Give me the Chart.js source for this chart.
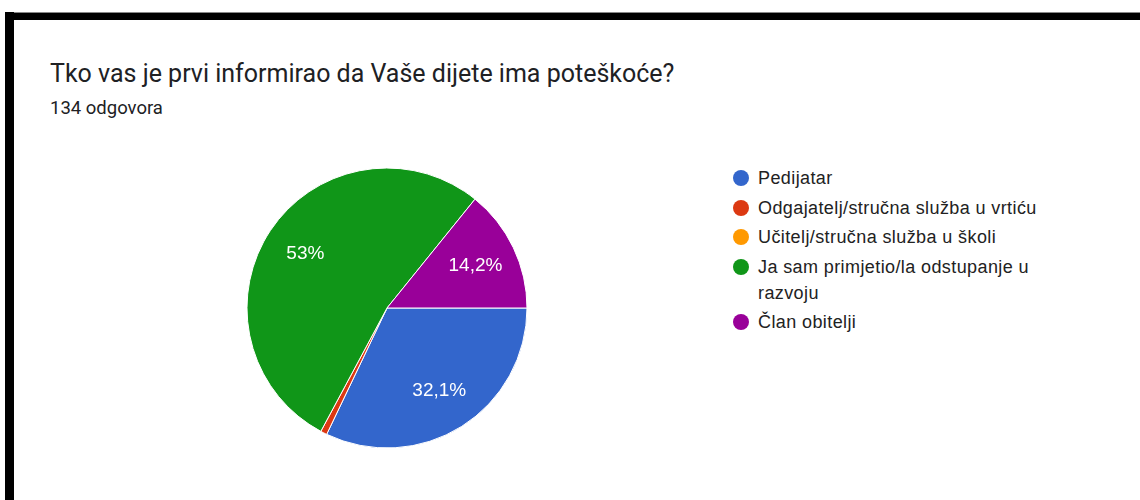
<!DOCTYPE html>
<html>
<head>
<meta charset="utf-8">
<script src="https://cdn.jsdelivr.net/npm/chart.js@4"></script>
<style>
  html, body { margin: 0; padding: 0; background: #fff; }
  body { width: 1140px; height: 500px; position: relative; overflow: hidden; }
  .frame-top { position: absolute; left: 5px; top: 12px; width: 1135px; height: 7px; background: #000; border-top: 1px solid #888; }
  .frame-left { position: absolute; left: 5px; top: 12px; width: 9px; height: 488px; background: #000; }
  .title { position: absolute; left: 50px; top: 59px; font-family: Roboto, sans-serif; font-size: 25px; color: #202124; white-space: nowrap; }
  .subtitle { position: absolute; left: 50px; top: 97px; font-family: Roboto, sans-serif; font-size: 18.5px; color: #202124; }
  #pie-wrap { position: absolute; left: 237px; top: 158px; width: 300px; height: 300px; }
  #legend { position: absolute; left: 733px; top: 165px; width: 330px; font-family: "Liberation Sans", Arial, sans-serif; font-size: 18px; letter-spacing: 0.4px; color: #222; }
  .item { display: flex; align-items: flex-start; margin-bottom: 3.5px; line-height: 26px; }
  .dot { width: 16px; height: 16px; border-radius: 50%; margin-top: 5px; margin-right: 9px; flex: none; }
  .txt { width: 290px; }
</style>
</head>
<body>
<div class="frame-top"></div>
<div class="frame-left"></div>
<div class="title">Tko vas je prvi informirao da Vaše dijete ima poteškoće?</div>
<div class="subtitle">134 odgovora</div>
<div id="pie-wrap"><canvas id="chart-area"></canvas></div>
<div id="legend"></div>
<script>
const categories = ['Pedijatar', 'Odgajatelj/stručna služba u vrtiću', 'Učitelj/stručna služba u školi', 'Ja sam primjetio/la odstupanje u razvoju', 'Član obitelji'];
const answers = [43, 1, 0, 71, 19];
const sliceColors = ['#3366cc', '#dc3912', '#ff9900', '#109618', '#990099'];

const total = answers.reduce((a, b) => a + b, 0);

function percentText(v){ // 32.1 -> "32,1%"
	const p = Math.round(v / total * 1000) / 10;
	return String(p).replace('.', ',') + '%';
}

const sliceLabels = { // bijeli postotci u kriskama
	id: 'sliceLabels',
	afterDatasetsDraw(chart){
		const ctx = chart.ctx;
		const meta = chart.getDatasetMeta(0);
		ctx.save();
		ctx.fillStyle = '#fff';
		ctx.font = '19px "Liberation Sans", Arial, sans-serif';
		ctx.textAlign = 'center';
		ctx.textBaseline = 'middle';
		meta.data.forEach((arc, i) => {
			if ( answers[i] / total < 0.05 ) return;
			const mid = (arc.startAngle + arc.endAngle) / 2;
			const r = arc.outerRadius * 0.7;
			ctx.fillText(percentText(answers[i]), arc.x + Math.cos(mid) * r, arc.y + Math.sin(mid) * r);
		});
		ctx.restore();
	}
};

chart = new Chart(document.getElementById('chart-area'), {
	type: 'pie',
	data: {
		labels: categories,
		datasets: [{
			data: answers,
			backgroundColor: sliceColors,
			borderColor: '#fff',
			borderWidth: 1
		}]
	},
	plugins: [sliceLabels],
	options: {
		responsive: true,
		maintainAspectRatio: false,
		animation: false,
		rotation: 90,
		radius: 140,
		plugins: {
			legend: { display: false },
			tooltip: { enabled: false }
		}
	}
});

const legend = document.getElementById('legend');
categories.forEach((c, i) => {
	legend.insertAdjacentHTML('beforeend', `<div class="item"><span class="dot" style="background:${sliceColors[i]}"></span><span class="txt">${c}</span></div>`);
});
</script>
</body>
</html>
